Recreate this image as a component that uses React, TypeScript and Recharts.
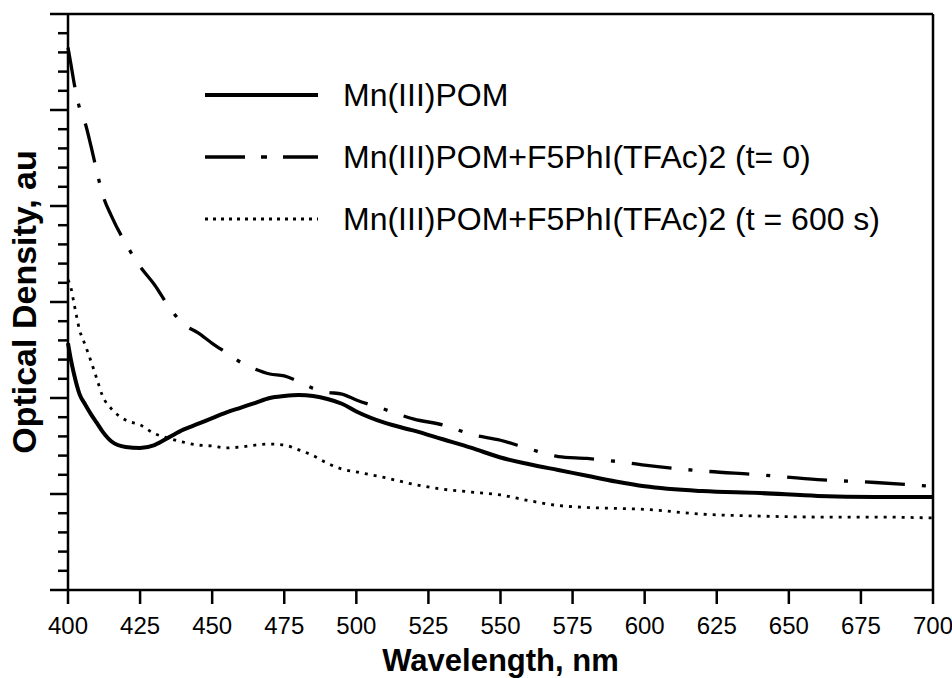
import { LineChart, Line, XAxis, YAxis, ReferenceLine, Legend, Label } from 'recharts'

const wavelength = [400, 401, 402, 404, 406, 408, 410, 412, 415, 420, 425, 430, 435, 440, 445, 450, 455, 460, 465, 470, 475, 480, 485, 490, 495, 500, 510, 520, 530, 540, 550, 560, 570, 580, 590, 600, 620, 640, 660, 680, 700]

const mnPom = [2.57, 2.4, 2.26, 2.04, 1.93, 1.83, 1.74, 1.65, 1.55, 1.49, 1.48, 1.51, 1.59, 1.67, 1.73, 1.79, 1.85, 1.9, 1.95, 2.0, 2.02, 2.03, 2.02, 1.99, 1.94, 1.86, 1.74, 1.66, 1.57, 1.48, 1.38, 1.31, 1.25, 1.19, 1.13, 1.08, 1.03, 1.01, 0.98, 0.97, 0.97]

const tZero = [5.65, 5.48, 5.3, 5.02, 4.86, 4.62, 4.36, 4.12, 3.9, 3.61, 3.37, 3.18, 2.95, 2.77, 2.68, 2.57, 2.47, 2.37, 2.3, 2.25, 2.23, 2.17, 2.1, 2.06, 2.04, 1.98, 1.88, 1.78, 1.72, 1.62, 1.56, 1.47, 1.39, 1.37, 1.34, 1.3, 1.24, 1.2, 1.15, 1.12, 1.08]

const t600 = [3.23, 3.15, 3.0, 2.71, 2.55, 2.38, 2.2, 2.02, 1.89, 1.77, 1.72, 1.63, 1.58, 1.54, 1.51, 1.5, 1.48, 1.49, 1.51, 1.52, 1.51, 1.46, 1.4, 1.32, 1.26, 1.23, 1.17, 1.1, 1.05, 1.02, 0.99, 0.93, 0.88, 0.86, 0.85, 0.84, 0.79, 0.77, 0.76, 0.76, 0.75]

const xTicks = [400, 425, 450, 475, 500, 525, 550, 575, 600, 625, 650, 675, 700]
const yTicks = Array.from({ length: 31 }, (_, i) => Math.round(i * 2) / 10)

const series = [
  { key: 'mnPom', name: 'Mn(III)POM', width: 4, dash: undefined, legendDash: undefined },
  { key: 'tZero', name: 'Mn(III)POM+F5PhI(TFAc)2 (t= 0)', width: 3.3, dash: '40 17 4 17', legendDash: '40 16 6 16' },
  { key: 't600', name: 'Mn(III)POM+F5PhI(TFAc)2 (t = 600 s)', width: 2.8, dash: '3 6', legendDash: '3 5' },
]

const data = wavelength.map((w, i) => ({ w, mnPom: mnPom[i], tZero: tZero[i], t600: t600[i] }))

const font = '"Liberation Sans", Arial, sans-serif'

function YTick(props: any) {
  const { x, y, payload } = props
  const major = Math.abs(payload.value - Math.round(payload.value)) < 1e-6
  const len = major ? 18 : 10
  return <line x1={x - len} x2={x} y1={y} y2={y} stroke="#000" strokeWidth={2.5} />
}

function YLabel(props: any) {
  const { viewBox } = props
  const cx = viewBox.x + 24
  const cy = viewBox.y + viewBox.height / 2
  return (
    <text x={cx} y={cy} transform={`rotate(-90 ${cx} ${cy})`} textAnchor="middle" dominantBaseline="central"
      fontFamily={font} fontWeight="bold" fontSize={34} fill="#000">
      Optical Density, au
    </text>
  )
}

function XLabel(props: any) {
  const { viewBox } = props
  return (
    <text x={viewBox.x + viewBox.width / 2} y={viewBox.y + 81} textAnchor="middle"
      fontFamily={font} fontWeight="bold" fontSize={31} fill="#000">
      Wavelength, nm
    </text>
  )
}

function LegendBox() {
  return (
    <div style={{ fontFamily: font, fontSize: 32, color: '#000' }}>
      {series.map((s) => (
        <div key={s.key} style={{ display: 'flex', alignItems: 'center', height: 62 }}>
          <svg width={113} height={10} style={{ marginRight: 25 }}>
            <line x1={0} x2={113} y1={5} y2={5} stroke="#000" strokeWidth={s.width} strokeDasharray={s.legendDash} />
          </svg>
          <span>{s.name}</span>
        </div>
      ))}
    </div>
  )
}

export default function App() {
  return (
    <div style={{ position: 'absolute', left: 0, top: 0, background: '#fff' }}>
      <LineChart width={952} height={678} data={data} margin={{ top: 14, right: 19, bottom: 0, left: 0 }}>
        <XAxis dataKey="w" type="number" domain={[400, 700]} ticks={xTicks} height={88}
          tickSize={14} tickMargin={13}
          axisLine={{ stroke: '#000', strokeWidth: 2.5 }} tickLine={{ stroke: '#000', strokeWidth: 2.5 }}
          tick={{ fill: '#000', fontSize: 24, fontFamily: font }}>
          <Label content={XLabel} />
        </XAxis>
        <YAxis type="number" domain={[0, 6]} ticks={yTicks} width={68} interval={0}
          tickSize={0} tickMargin={0} tickLine={false}
          axisLine={{ stroke: '#000', strokeWidth: 2.5 }} tick={YTick}>
          <Label content={YLabel} />
        </YAxis>
        <ReferenceLine y={6} stroke="#000" strokeWidth={2.5} />
        <ReferenceLine x={700} stroke="#000" strokeWidth={2.5} />
        <Legend layout="vertical" align="center" verticalAlign="middle" content={LegendBox}
          wrapperStyle={{ left: 205, top: 64, width: 740 }} />
        {series.map((s) => (
          <Line key={s.key} dataKey={s.key} name={s.name} type="monotone" stroke="#000"
            strokeWidth={s.width} strokeDasharray={s.dash} dot={false} isAnimationActive={false} />
        ))}
      </LineChart>
    </div>
  )
}
